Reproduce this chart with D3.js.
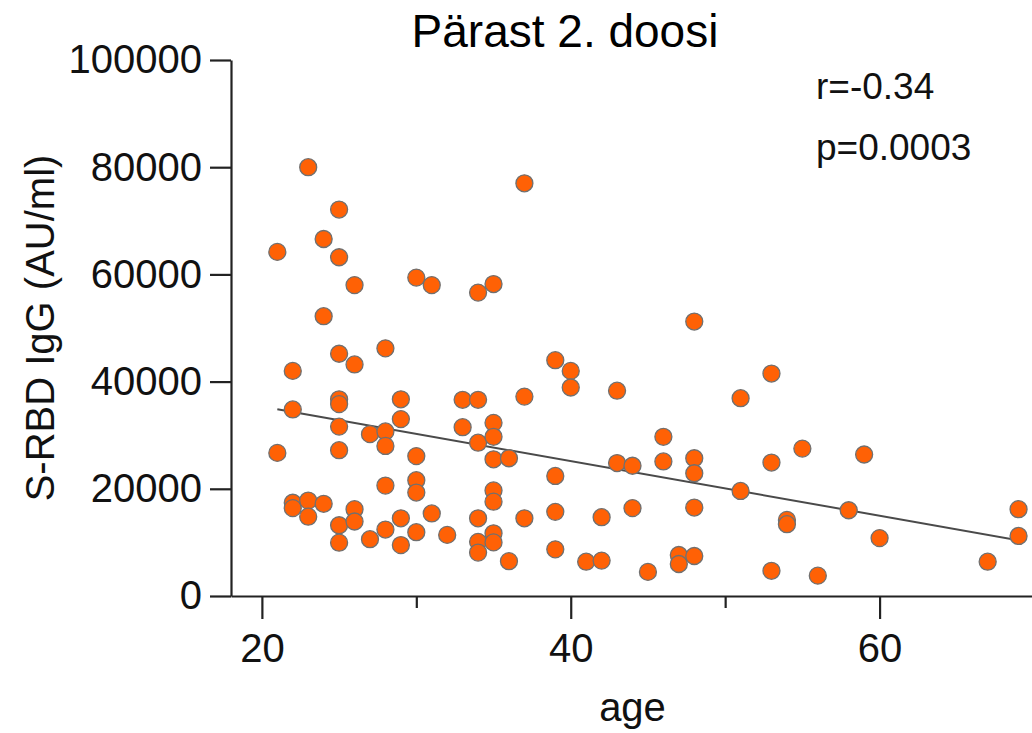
<!DOCTYPE html>
<html>
<head>
<meta charset="utf-8">
<script src="https://cdn.jsdelivr.net/npm/d3@7/dist/d3.min.js"></script>
<style>
  html, body { margin: 0; padding: 0; background: #fff; }
  svg { display: block; font-family: "Liberation Sans", Arial, Helvetica, sans-serif; }
</style>
</head>
<body>
<svg id="chart" width="1032" height="733"></svg>
<script>
// Age of each participant and S-RBD IgG level after the second dose
const ages = [
  21, 21,
  22, 22, 22, 22,
  23, 23, 23,
  24, 24, 24,
  25, 25, 25, 25, 25, 25, 25, 25, 25,
  26, 26, 26, 26,
  27, 27,
  28, 28, 28, 28, 28,
  29, 29, 29, 29,
  30, 30, 30, 30, 30,
  31, 31,
  32,
  33, 33,
  34, 34, 34, 34, 34, 34,
  35, 35, 35, 35, 35, 35, 35, 35,
  36, 36,
  37, 37, 37,
  39, 39, 39, 39,
  40, 40,
  41,
  42, 42,
  43, 43,
  44, 44,
  45,
  46, 46,
  47, 47,
  48, 48, 48, 48, 48,
  51, 51,
  53, 53, 53,
  54, 54,
  55,
  56,
  58,
  59,
  60,
  67,
  69, 69
];
const igg = [
  64200, 26700,
  42000, 34800, 17400, 16400,
  80000, 17800, 14800,
  66600, 52200, 17200,
  72100, 63200, 45200, 36700, 35800, 31600, 27200, 13200, 9950,
  58000, 43200, 16200, 13900,
  30200, 10600,
  46200, 30700, 28000, 20600, 12400,
  36700, 33000, 14500, 9500,
  59400, 26100, 21600, 19300, 11900,
  58000, 15400,
  11400,
  36600, 31500,
  56600, 36600, 28600, 14500, 10100, 8100,
  58200, 32300, 29700, 25500, 19700, 17600, 11700, 10000,
  25700, 6500,
  77000, 37200, 14500,
  44000, 22400, 15700, 8700,
  42000, 38900,
  6400,
  14700, 6600,
  38300, 24800,
  24300, 16400,
  4500,
  29700, 25100,
  7650, 5970,
  51200, 25700, 22900, 16500, 7460,
  36900, 19600,
  41500, 24900, 4700,
  14200, 13400,
  27500,
  3800,
  16000,
  26400,
  10800,
  6400,
  16200, 11200
];

// Linear regression line endpoints
const fitAges = [21, 69];
const fitValues = [34830, 10400];

// Axis ticks
const yTicks = [0, 20000, 40000, 60000, 80000, 100000];
const xMajorTicks = [20, 40, 60];
const xMinorTicks = [30, 50, 70];

const title = "Pärast 2. doosi";
const statLines = ["r=-0.34", "p=0.0003"];
const xTitle = "age";
const yTitle = "S-RBD IgG (AU/ml)";

const svg = d3.select("#chart");
const axisColor = "#222";

const x = d3.scaleLinear().domain([18, 70]).range([231, 1034]);
const y = d3.scaleLinear().domain([0, 100000]).range([596, 60]);

// Y axis
const yAxis = svg.append("g")
  .attr("transform", `translate(${x(18)},0)`)
  .call(d3.axisLeft(y).tickValues(yTicks).tickFormat(d3.format("d"))
    .tickSize(21).tickSizeOuter(0).tickPadding(8));
yAxis.select(".domain").attr("stroke", axisColor).attr("stroke-width", 2.2);
yAxis.selectAll(".tick line").attr("stroke", axisColor).attr("stroke-width", 2.2);
yAxis.selectAll(".tick text").attr("font-size", 40).attr("fill", "#111")
  .attr("font-family", "'Liberation Sans', Arial, sans-serif");

// X axis: labelled major ticks
const xAxis = svg.append("g")
  .attr("transform", `translate(0,${y(0)})`)
  .call(d3.axisBottom(x).tickValues(xMajorTicks).tickFormat(d3.format("d"))
    .tickSize(23).tickSizeOuter(0).tickPadding(15));
xAxis.select(".domain").attr("stroke", axisColor).attr("stroke-width", 2.2);
xAxis.selectAll(".tick line").attr("stroke", axisColor).attr("stroke-width", 2.2);
xAxis.selectAll(".tick text").attr("font-size", 40).attr("fill", "#111")
  .attr("font-family", "'Liberation Sans', Arial, sans-serif");

// X axis: unlabelled minor ticks
const xMinor = svg.append("g")
  .attr("transform", `translate(0,${y(0)})`)
  .call(d3.axisBottom(x).tickValues(xMinorTicks).tickFormat("")
    .tickSize(12).tickSizeOuter(0));
xMinor.select(".domain").remove();
xMinor.selectAll(".tick line").attr("stroke", axisColor).attr("stroke-width", 2.2);

// Regression line
const line = d3.line().x(d => x(d[0])).y(d => y(d[1]));
svg.append("path")
  .datum(fitAges.map((a, i) => [a, fitValues[i]]))
  .attr("d", line)
  .attr("fill", "none")
  .attr("stroke", "#4a4a4a")
  .attr("stroke-width", 2);

// Data points
svg.append("g")
  .selectAll("circle")
  .data(ages.map((a, i) => ({ age: a, value: igg[i] })))
  .join("circle")
  .attr("cx", d => x(d.age))
  .attr("cy", d => y(d.value))
  .attr("r", 8.5)
  .attr("fill", "#ff6105")
  .attr("stroke", "#707070")
  .attr("stroke-width", 1.3);

// Title
svg.append("text")
  .attr("x", 565).attr("y", 47)
  .attr("text-anchor", "middle")
  .attr("font-size", 46)
  .attr("fill", "#000")
  .text(title);

// Correlation statistics
svg.append("g").selectAll("text")
  .data(statLines)
  .join("text")
  .attr("x", 816)
  .attr("y", (d, i) => 99 + i * 61)
  .attr("font-size", 37)
  .attr("fill", "#111")
  .text(d => d);

// Axis titles
svg.append("text")
  .attr("x", x(44)).attr("y", 721)
  .attr("text-anchor", "middle")
  .attr("font-size", 40)
  .attr("fill", "#111")
  .text(xTitle);

svg.append("text")
  .attr("transform", "translate(54,328) rotate(-90)")
  .attr("text-anchor", "middle")
  .attr("font-size", 40)
  .attr("fill", "#111")
  .text(yTitle);
</script>
</body>
</html>
